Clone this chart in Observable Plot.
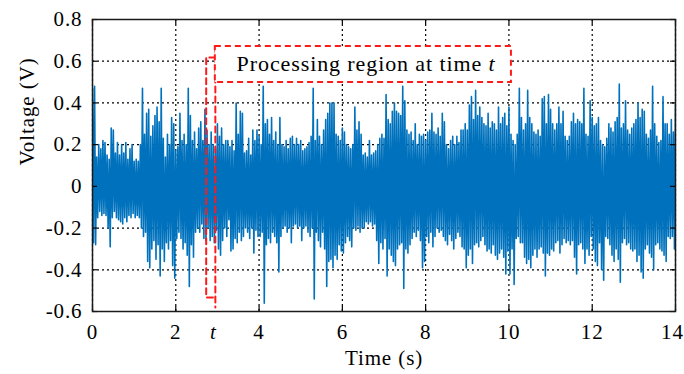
<!DOCTYPE html>
<html>
<head>
<meta charset="utf-8">
<script src="https://cdn.jsdelivr.net/npm/d3@7"></script>
<script src="https://cdn.jsdelivr.net/npm/@observablehq/plot@0.6"></script>
<style>
  html, body { margin: 0; padding: 0; background: #fff; }
  #chart { width: 684px; height: 374px; }
  #chart svg, #chart svg text { font-family: "Liberation Serif", "DejaVu Serif", serif !important; }
  #chart svg text { letter-spacing: 0.9px; }
</style>
</head>
<body>
<div id="chart"></div>
<script>
// Sampling step of the envelope readings (s)
const step = 0.05;
// Upper envelope readings (V), one per step starting at t = 0
const hi = [
0.47,0.48,0.14,0.2,0.18,0.22,0.21,0.15,0.13,0.28,
0.27,0.16,0.21,0.15,0.2,0.16,0.21,0.13,0.18,0.2,
0.12,0.13,0.12,0.2,0.47,0.25,0.35,0.37,0.24,0.29,
0.34,0.38,0.31,0.47,0.23,0.14,0.25,0.2,0.33,0.3,
0.17,0.19,0.35,0.22,0.25,0.2,0.47,0.34,0.22,0.26,
0.18,0.28,0.31,0.22,0.37,0.27,0.2,
0.26,0.2,0.18,0.3,0.24,0.28,0.2,0.22,0.22,0.19,
0.22,0.17,0.4,0.25,0.36,0.35,0.16,0.17,0.23,0.15,
0.27,0.22,0.27,0.24,0.2,0.48,0.3,0.32,0.25,0.33,
0.22,0.26,0.2,0.33,0.2,0.19,0.22,0.18,0.23,0.24,
0.2,0.23,0.2,0.22,0.17,0.18,0.19,0.21,0.24,0.47,
0.22,0.32,0.24,0.2,0.27,0.32,
0.35,0.4,0.4,0.4,0.25,0.24,0.22,0.28,0.26,0.2,
0.19,0.18,0.2,0.38,0.27,0.31,0.25,0.15,0.16,0.14,
0.22,0.15,0.16,0.17,0.2,0.23,0.25,0.23,0.44,0.32,
0.3,0.36,0.4,0.36,0.35,0.34,0.48,0.41,0.27,0.25,
0.26,0.22,0.3,0.2,0.25,0.24,0.25,0.22,0.26,0.27,
0.35,0.26,0.25,0.28,0.24,
0.35,0.31,0.2,0.18,0.22,0.24,0.2,0.24,0.21,0.27,
0.27,0.3,0.27,0.39,0.43,0.32,0.46,0.34,0.38,0.33,
0.3,0.29,0.35,0.28,0.31,0.3,0.27,0.38,0.3,0.33,
0.35,0.29,0.38,0.25,0.22,0.2,0.25,0.47,0.33,0.27,
0.3,0.46,0.33,0.3,0.26,0.25,0.27,0.24,0.42,0.43,
0.3,0.44,0.37,0.3,0.27,0.3,
0.38,0.3,0.36,0.24,0.22,0.24,0.31,0.35,0.3,0.32,
0.31,0.3,0.47,0.25,0.24,0.41,0.33,0.29,0.3,0.33,
0.22,0.2,0.19,0.23,0.3,0.28,0.26,0.31,0.33,0.49,
0.28,0.3,0.41,0.27,0.25,0.28,0.3,0.32,0.4,0.33,
0.37,0.36,0.25,0.23,0.27,0.48,0.3,0.24,0.21,0.22,
0.43,0.3,0.3,0.25,0.32,0.26,0.39
];
// Lower envelope readings (V), one per step, half a step later
const lo = [
-0.27,-0.28,-0.15,-0.12,-0.14,-0.13,-0.14,-0.2,-0.29,-0.15,
-0.12,-0.15,-0.16,-0.17,-0.18,-0.15,-0.17,-0.14,-0.15,-0.13,
-0.15,-0.14,-0.15,-0.2,-0.24,-0.22,-0.36,-0.39,-0.3,-0.26,
-0.35,-0.28,-0.43,-0.3,-0.36,-0.27,-0.3,-0.26,-0.38,-0.44,
-0.25,-0.22,-0.25,-0.3,-0.27,-0.33,-0.48,-0.28,-0.34,-0.22,
-0.2,-0.22,-0.18,-0.25,-0.26,-0.2,-0.26,
-0.24,-0.27,-0.21,-0.3,-0.33,-0.26,-0.2,-0.24,-0.16,-0.31,
-0.3,-0.25,-0.27,-0.22,-0.26,-0.24,-0.2,-0.22,-0.25,-0.2,
-0.32,-0.21,-0.24,-0.24,-0.22,-0.56,-0.28,-0.25,-0.27,-0.22,
-0.24,-0.27,-0.41,-0.24,-0.2,-0.19,-0.22,-0.2,-0.27,-0.19,
-0.18,-0.2,-0.19,-0.26,-0.2,-0.19,-0.22,-0.24,-0.2,-0.54,
-0.22,-0.26,-0.29,-0.22,-0.3,-0.48,
-0.36,-0.35,-0.39,-0.33,-0.35,-0.28,-0.31,-0.32,-0.27,-0.24,
-0.26,-0.29,-0.2,-0.21,-0.19,-0.22,-0.2,-0.2,-0.17,-0.18,
-0.17,-0.19,-0.18,-0.26,-0.37,-0.27,-0.3,-0.25,-0.43,-0.3,
-0.33,-0.36,-0.38,-0.3,-0.28,-0.27,-0.49,-0.3,-0.32,-0.28,
-0.25,-0.22,-0.24,-0.21,-0.26,-0.39,-0.36,-0.24,-0.27,-0.22,
-0.29,-0.24,-0.2,-0.22,-0.21,
-0.24,-0.26,-0.28,-0.23,-0.26,-0.3,-0.25,-0.22,-0.24,-0.29,
-0.3,-0.39,-0.33,-0.3,-0.37,-0.28,-0.27,-0.29,-0.26,-0.24,
-0.28,-0.31,-0.3,-0.32,-0.28,-0.33,-0.35,-0.32,-0.3,-0.34,
-0.42,-0.31,-0.42,-0.3,-0.47,-0.25,-0.24,-0.27,-0.27,-0.34,
-0.37,-0.35,-0.39,-0.33,-0.3,-0.34,-0.3,-0.29,-0.32,-0.43,
-0.32,-0.33,-0.3,-0.31,-0.27,-0.26,
-0.32,-0.28,-0.25,-0.27,-0.26,-0.28,-0.26,-0.34,-0.42,-0.28,
-0.27,-0.3,-0.37,-0.3,-0.33,-0.24,-0.3,-0.36,-0.38,-0.27,
-0.4,-0.45,-0.24,-0.25,-0.28,-0.33,-0.36,-0.3,-0.35,-0.46,
-0.27,-0.25,-0.28,-0.27,-0.3,-0.31,-0.3,-0.36,-0.33,-0.41,
-0.44,-0.3,-0.28,-0.32,-0.34,-0.4,-0.28,-0.27,-0.3,-0.31,
-0.33,-0.36,-0.24,-0.25,-0.24,-0.3,-0.25
];
const xTicks = [0, 2, 4, 6, 8, 10, 12, 14];
const yTicks = [-0.6, -0.4, -0.2, 0, 0.2, 0.4, 0.6, 0.8];
const xLabel = "Time (s)";
const yLabel = "Voltage (V)";
const boxText = "Processing region at time t";
const tMark = "t";
// annotation geometry (data units)
const regionX = [2.73, 2.95];          // narrow processing window
const regionTop = 0.618, regionBottom = -0.533, regionLineBottom = -0.581;
const box = {x1: 2.95, x2: 10.06, y1: 0.498, y2: 0.671};
const boxTextX = 6.57, boxTextY = 0.585;
const tLabelX = 2.9;

const tMax = 14;
const signal = hi.flatMap((h, i) => [
  {t: i * step, v: h},
  {t: Math.min(i * step + step / 2, tMax), v: lo[i]}
]);

const fmtY = d => d === 0 ? "0" : d.toFixed(1);
const red = "#ff1a1a";
const dash = "6,4";
const fs = 21;

const chart = Plot.plot({
  width: 684,
  height: 374,
  marginLeft: 92,
  marginRight: 9,
  marginTop: 19,
  marginBottom: 63,
  style: "font-family: 'Liberation Serif', 'DejaVu Serif', serif; font-size: 21px; color: #000; background: #fff;",
  x: {domain: [0, 14]},
  y: {domain: [-0.6, 0.8]},
  marks: [
    Plot.gridX(xTicks, {stroke: "#000", strokeOpacity: 1, strokeWidth: 1.2, strokeDasharray: "2,3"}),
    Plot.gridY(yTicks, {stroke: "#000", strokeOpacity: 1, strokeWidth: 1.2, strokeDasharray: "2,3"}),
    Plot.line(signal, {x: "t", y: "v", stroke: "#0072BD", strokeWidth: 1.6, clip: true}),
    // narrow window outline (left side, top and bottom step)
    Plot.line([
      {x: regionX[1], y: regionTop}, {x: regionX[0], y: regionTop},
      {x: regionX[0], y: regionBottom}, {x: regionX[1], y: regionBottom}
    ], {x: "x", y: "y", stroke: red, strokeWidth: 2, strokeDasharray: dash}),
    Plot.line([
      {x: regionX[1], y: box.y2}, {x: regionX[1], y: regionLineBottom}
    ], {x: "x", y: "y", stroke: red, strokeWidth: 2, strokeDasharray: dash}),
    Plot.rect([box], {x1: "x1", x2: "x2", y1: "y1", y2: "y2", fill: "#fff", stroke: red, strokeWidth: 2, strokeDasharray: dash}),
    Plot.text([boxText], {x: boxTextX, y: boxTextY, text: d => d, textAnchor: "middle", fontSize: 22, fill: "#000"}),
    // inward ticks
    Plot.ruleX(xTicks, {y1: -0.6, y2: -0.575, stroke: "#000", strokeWidth: 1.2}),
    Plot.ruleX(xTicks, {y1: 0.8, y2: 0.775, stroke: "#000", strokeWidth: 1.2}),
    Plot.ruleY(yTicks, {x1: 0, x2: 0.12, stroke: "#000", strokeWidth: 1.2}),
    Plot.ruleY(yTicks, {x1: 14, x2: 13.88, stroke: "#000", strokeWidth: 1.2}),
    Plot.frame({stroke: "#1a1a1a", strokeWidth: 1.5}),
    Plot.axisX(xTicks.filter(d => d < 14), {tickSize: 0, tickPadding: 13, tickFormat: d => String(d), label: null, fontSize: fs}),
    Plot.text(xTicks.filter(d => d === 14), {x: d => d, frameAnchor: "bottom", lineAnchor: "top", dy: 13, dx: -3, text: d => String(d), fontSize: fs, fill: "#000"}),
    Plot.axisY(yTicks, {tickSize: 0, tickPadding: 10, tickFormat: fmtY, label: null, fontSize: fs}),
    Plot.text([tMark], {x: tLabelX, frameAnchor: "bottom", lineAnchor: "top", dy: 13, text: d => d, fontStyle: "italic", fontSize: fs, fill: "#000"}),
    Plot.text([xLabel], {frameAnchor: "bottom", lineAnchor: "middle", dy: 47, text: d => d, fontSize: fs, fill: "#000"}),
    Plot.text([yLabel], {frameAnchor: "left", rotate: -90, dx: -65, text: d => d, fontSize: fs, fill: "#000"})
  ]
});
document.getElementById("chart").appendChild(chart);
// italicise the trailing "t" of the box label
chart.querySelectorAll("text").forEach(el => {
  if (el.textContent === boxText) {
    el.textContent = "";
    const ns = "http://www.w3.org/2000/svg";
    const a = document.createElementNS(ns, "tspan");
    a.textContent = "Processing region at time ";
    const b = document.createElementNS(ns, "tspan");
    b.setAttribute("font-style", "italic");
    b.textContent = "t";
    el.appendChild(a); el.appendChild(b);
  }
});
</script>
</body>
</html>
